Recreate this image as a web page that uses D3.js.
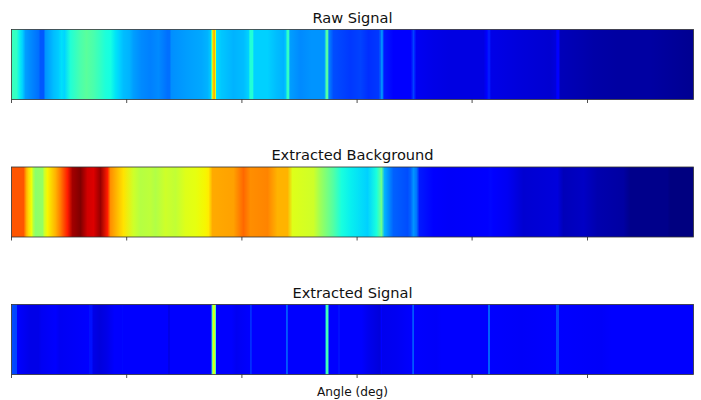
<!DOCTYPE html>
<html><head><meta charset="utf-8">
<script src="https://cdn.jsdelivr.net/npm/d3@7"></script>
<style>html,body{margin:0;background:#fff}svg{display:block}text{font-family:"DejaVu Sans",sans-serif;fill:#111}</style>
</head><body><svg id="c" width="701" height="400"></svg>
<script>
const titles = ["Raw Signal", "Extracted Background", "Extracted Signal"];
const xLabel = "Angle (deg)";
const tickAngles = [0, 115.2, 230.4, 345.6, 460.6, 576];
// [angle, level] pairs read from each strip
const rawStops = [[0,.42],[5,.41],[8,.36],[11,.33],[14,.28],[19,.26],[22,.25],[27,.235],[29,.21],[32,.21],[34,.27],[38,.29],[42,.31],[47,.325],[50,.345],[53,.335],[59,.39],[69,.44],[75,.46],[82,.44],[89,.41],[94,.385],[99,.375],[104,.35],[108,.33],[112,.31],[118,.30],[122,.28],[130,.26],[139,.25],[147,.26],[156,.235],[158,.235],[160,.265],[176,.28],[190,.29],[196,.30],[199,.32],[200,.42],[200.8,.60],[201.7,.70],[203,.72],[204,.62],[205,.34],[210,.32],[222,.30],[232,.31],[237,.33],[238.5,.39],[241,.39],[242.5,.33],[256,.33],[265,.31],[272,.30],[274.5,.32],[275.5,.41],[277,.41],[278.5,.28],[289,.26],[300,.27],[312,.27],[313.5,.29],[314.5,.45],[316,.45],[317.5,.25],[322,.20],[339,.18],[349,.19],[357,.17],[367,.18],[369,.22],[370,.265],[371,.25],[372.5,.15],[382,.12],[399,.11],[400.5,.15],[402,.19],[403.5,.15],[405,.10],[422,.09],[439,.085],[472,.085],[475.5,.11],[477,.15],[478,.15],[479.5,.09],[506,.08],[539,.07],[544,.08],[545.5,.11],[547,.11],[549,.05],[572,.04],[582,.035],[606,.03],[639,.03],[682,.015]];
const bgStops = [[0,.82],[12,.82],[15,.72],[17,.68],[20,.64],[22,.56],[24,.52],[31,.53],[33,.6],[36,.65],[44,.72],[49,.78],[56,.88],[61,.97],[69,1],[76,.93],[82,.92],[89,.98],[96,.88],[99,.76],[106,.71],[112,.67],[122,.60],[129,.57],[139,.58],[144,.565],[154,.60],[164,.585],[174,.62],[184,.63],[194,.65],[197,.66],[201,.73],[222,.74],[232,.80],[239,.76],[256,.77],[266,.72],[276,.72],[281,.62],[302,.60],[309,.54],[322,.45],[330,.38],[339,.36],[356,.33],[365,.38],[370,.48],[373,.30],[382,.22],[396,.20],[399,.22],[402,.27],[405,.24],[408,.15],[422,.12],[439,.105],[476,.11],[479,.13],[482,.11],[496,.10],[512,.07],[546,.08],[552,.05],[572,.06],[586,.04],[612,.03],[619,.01],[656,.01],[659,0],[682,0]];
const sigStops = [[0,.2],[5,.19],[6,.12],[19,.09],[27,.09],[30,.10],[44,.11],[48,.10],[77,.12],[78,.14],[80,.14],[82,.09],[88,.08],[95,.09],[103,.11],[110,.11],[111,.13],[112,.11],[156,.11],[157,.09],[158,.09],[159,.11],[199.6,.11],[200.6,.42],[201.7,.62],[203,.6],[204.2,.42],[205,.11],[220,.11],[225,.10],[238,.11],[239,.17],[240,.16],[241,.11],[274,.11],[275,.21],[276,.20],[277,.11],[313.6,.11],[314.5,.38],[315.5,.47],[316.5,.40],[317.5,.11],[326,.11],[327,.14],[328,.14],[329,.11],[350,.11],[357,.095],[368,.08],[369,.09],[370,.12],[371,.095],[385,.10],[400,.11],[401,.19],[402,.21],[403,.11],[425,.105],[430,.115],[476,.11],[477,.22],[478,.22],[479,.11],[510,.105],[544,.11],[545,.19],[547,.19],[548,.11],[590,.105],[600,.11],[682,.11]];

const panelTops = [29.5, 167, 304.5];
const panelH = 70;
const W = 682, L = 11.5;
const rows = [rawStops, bgStops, sigStops];
const titleGap = [6.5, 7, 7];

const channel = (d, r) => d3.scaleLinear().domain(d).range(r).clamp(true);
const rC = channel([0,.35,.66,.89,1],[0,0,1,1,.5]);
const gC = channel([0,.125,.375,.64,.91,1],[0,0,1,1,0,0]);
const bC = channel([0,.11,.34,.65,1],[.5,1,1,0,0]);
const jet = v => `rgb(${Math.round(rC(v)*255)},${Math.round(gC(v)*255)},${Math.round(bC(v)*255)})`;

const x = d3.scaleLinear().domain([0, 682]).range([0, W]);
const svg = d3.select("#c");
const defs = svg.append("defs");

rows.forEach((stops, i) => {
  const id = "g" + i;
  const grad = defs.append("linearGradient").attr("id", id)
    .attr("gradientUnits", "userSpaceOnUse").attr("x1", 0).attr("x2", W).attr("y1", 0).attr("y2", 0);
  grad.selectAll("stop").data(stops).join("stop")
    .attr("offset", d => x(d[0]) / W)
    .attr("stop-color", d => jet(d[1]));
  const g = svg.append("g").attr("transform", `translate(${L},${panelTops[i]})`);
  g.append("rect").attr("width", W).attr("height", panelH).attr("fill", `url(#${id})`);
  g.append("rect").attr("width", W).attr("height", panelH).attr("fill", "none").attr("stroke", "#333").attr("stroke-width", 0.8);
  const axis = d3.axisBottom(x).tickValues(tickAngles).tickFormat("").tickSize(3.5).tickSizeOuter(0).offset(0);
  const ag = g.append("g").attr("transform", `translate(0,${panelH})`).call(axis);
  ag.select(".domain").remove();
  ag.selectAll("line").attr("stroke", "#222").attr("stroke-width", 0.8);
  g.append("text").attr("x", W / 2).attr("y", -titleGap[i]).attr("text-anchor", "middle").attr("font-size", 14.6).text(titles[i]);
});
svg.append("text").attr("x", L + W / 2).attr("y", 395.5).attr("text-anchor", "middle").attr("font-size", 12.2).text(xLabel);
</script></body></html>
